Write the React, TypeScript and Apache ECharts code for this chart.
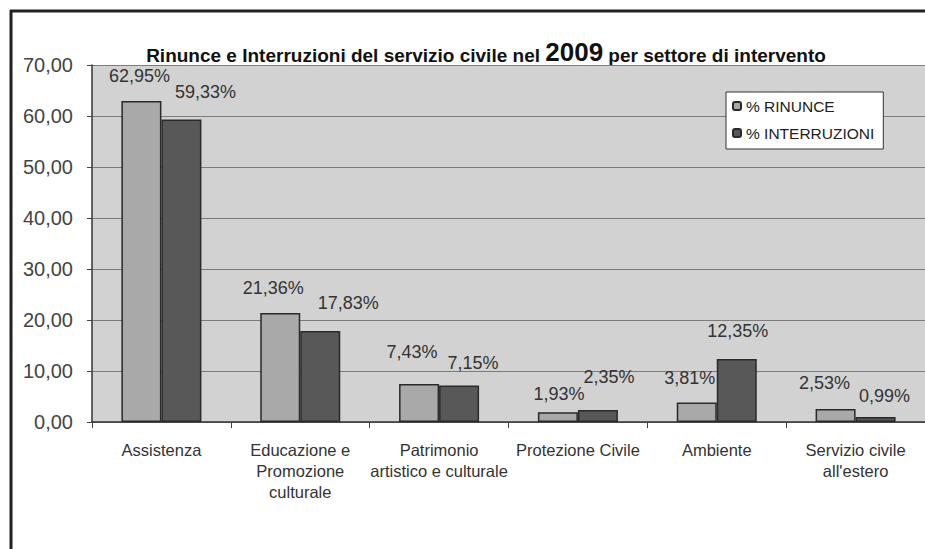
import React, { useEffect, useRef } from "react";
import * as echarts from "echarts";

const categories = [
  "Assistenza",
  "Educazione e\nPromozione\nculturale",
  "Patrimonio\nartistico e culturale",
  "Protezione Civile",
  "Ambiente",
  "Servizio civile\nall'estero",
];
const rinunce = [62.95, 21.36, 7.43, 1.93, 3.81, 2.53];
const interruzioni = [59.33, 17.83, 7.15, 2.35, 12.35, 0.99];
const seriesNames = ["% RINUNCE", "% INTERRUZIONI"];
const titleStart = "Rinunce e Interruzioni del servizio civile nel ";
const titleYear = "2009";
const titleEnd = " per settore di intervento";

// label placement styling (offset from bar top, [dx, dy])
const rinunceLabelOffsets = [[-2, -16], [-7, -16], [-7, -23], [1, -9], [-7, -16], [-11, -17]];
const interruzioniLabelOffsets = [[24, -18], [28, -19], [14, -14], [11, -24], [1, -19], [9, -12]];

const fmt = (v: number) => v.toFixed(2).replace(".", ",");

export default function App() {
  const ref = useRef<HTMLDivElement>(null);
  useEffect(() => {
    if (!ref.current) return;
    const chart = echarts.init(ref.current, undefined, { renderer: "svg" });
    const labelBase = {
      show: true,
      position: "top",
      distance: 0,
      fontFamily: "Liberation Sans, Arial, sans-serif",
      fontSize: 18,
      lineHeight: 18,
      color: "#333",
      formatter: (p: any) => fmt(p.value) + "%",
    };
    const mk = (vals: number[], offs: number[][]) =>
      vals.map((v, i) => ({ value: v, label: { offset: offs[i] } }));
    chart.setOption({
      animation: false,
      backgroundColor: "#ffffff",
      textStyle: { fontFamily: "Liberation Sans, Arial, sans-serif" },
      grid: {
        left: 92,
        top: 65,
        right: -7,
        height: 357,
        show: true,
        backgroundColor: "#d2d2d2",
        borderWidth: 0,
        borderColor: "transparent",
      },
      legend: {
        orient: "vertical",
        left: 726,
        top: 92,
        padding: [6, 9, 8, 6],
        itemWidth: 8,
        itemHeight: 8,
        itemGap: 11,
        backgroundColor: "#ffffff",
        borderColor: "#333",
        borderWidth: 1,
        borderRadius: 0,
        textStyle: {
          fontSize: 15.5,
          color: "#222",
          fontFamily: "Liberation Sans, Arial, sans-serif",
        },
        data: seriesNames,
      },
      xAxis: {
        type: "category",
        data: categories,
        axisLine: { lineStyle: { color: "#333", width: 1.5 } },
        axisTick: { show: true, length: 6, lineStyle: { color: "#444" } },
        axisLabel: {
          interval: 0,
          margin: 17,
          fontSize: 16.5,
          lineHeight: 21,
          color: "#333",
          fontFamily: "Liberation Sans, Arial, sans-serif",
        },
      },
      yAxis: {
        type: "value",
        min: 0,
        max: 70,
        interval: 10,
        axisLine: { show: true, lineStyle: { color: "#333", width: 1.5 } },
        axisTick: { show: true, length: 5, lineStyle: { color: "#444" } },
        splitLine: { lineStyle: { color: "#7c7c7c", width: 1 } },
        axisLabel: {
          margin: 19,
          fontSize: 20,
          color: "#444",
          fontFamily: "Liberation Sans, Arial, sans-serif",
          formatter: (v: number) => fmt(v),
        },
      },
      series: [
        {
          name: seriesNames[0],
          type: "bar",
          barWidth: 40,
          barGap: "0%",
          data: mk(rinunce, rinunceLabelOffsets),
          itemStyle: { color: "#a9a9a9", borderColor: "#2a2a2a", borderWidth: 1.5 },
          label: labelBase,
        },
        {
          name: seriesNames[1],
          type: "bar",
          barWidth: 40,
          barGap: "0%",
          data: mk(interruzioni, interruzioniLabelOffsets),
          itemStyle: { color: "#585858", borderColor: "#2a2a2a", borderWidth: 1.5 },
          label: labelBase,
        },
      ],
      graphic: [
        {
          type: "line",
          shape: { x1: 11, y1: 10, x2: 11, y2: 549 },
          style: { stroke: "#222", lineWidth: 3 },
          silent: true,
        },
        {
          type: "line",
          shape: { x1: 10, y1: 11, x2: 925, y2: 11 },
          style: { stroke: "#222", lineWidth: 3 },
          silent: true,
        },
        {
          type: "text",
          x: 486,
          y: 52,
          style: {
            text: `{a|${titleStart}}{b|${titleYear}}{a|${titleEnd}}`,
            align: "center",
            verticalAlign: "middle",
            rich: {
              a: {
                fontSize: 19,
                fontWeight: "bold",
                lineHeight: 19,
                verticalAlign: "bottom",
                fill: "#111",
                fontFamily: "Liberation Sans, Arial, sans-serif",
              },
              b: {
                fontSize: 26,
                fontWeight: "bold",
                lineHeight: 26,
                verticalAlign: "bottom",
                fill: "#111",
                fontFamily: "Liberation Sans, Arial, sans-serif",
              },
            },
          },
        },
      ],
    });
    return () => chart.dispose();
  }, []);
  return (
    <div
      ref={ref}
      style={{ position: "absolute", left: 0, top: 0, width: 925, height: 549 }}
    />
  );
}
